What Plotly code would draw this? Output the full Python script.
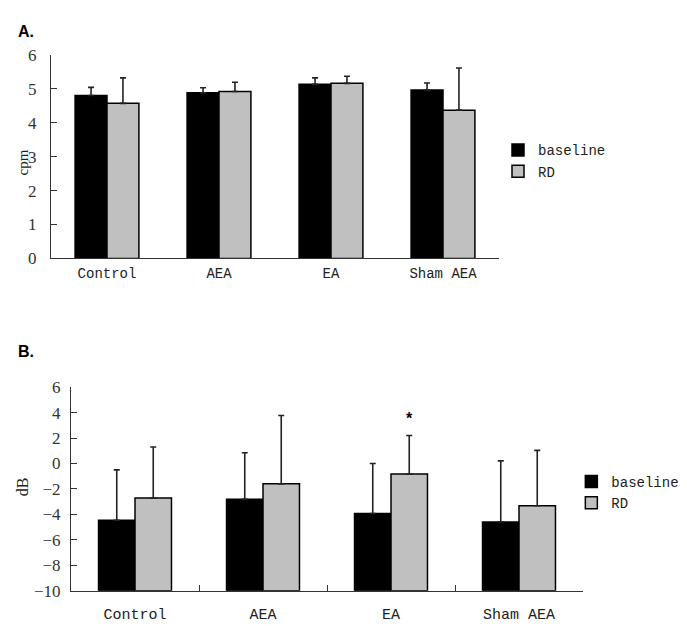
import plotly.graph_objects as go

W, H = 687, 626

categories = ["Control", "AEA", "EA", "Sham AEA"]

# Panel A (cpm)
a_baseline = [4.80, 4.88, 5.13, 4.96]
a_baseline_err = [0.24, 0.15, 0.19, 0.21]
a_rd = [4.57, 4.92, 5.16, 4.37]
a_rd_err = [0.75, 0.27, 0.21, 1.24]

# Panel B (dB)
b_baseline = [-4.46, -2.81, -3.93, -4.59]
b_baseline_err = [3.96, 3.65, 3.93, 4.79]
b_rd = [-2.71, -1.60, -0.83, -3.32]
b_rd_err = [4.01, 5.37, 3.03, 4.35]

a_yticks = [0, 1, 2, 3, 4, 5, 6]
b_yticks = [-10, -8, -6, -4, -2, 0, 2, 4, 6]

BLACK = "#000000"
GRAY = "#C0C0C0"


def px_x(a, b):
    return [a / W, b / W]


def px_y(top, bottom):
    return [1 - bottom / H, 1 - top / H]


fig = go.Figure()

err_style = dict(type="data", symmetric=False, thickness=1.6, width=3, color="#222222")

fig.add_trace(go.Bar(
    x=categories, y=a_baseline, name="baseline", xaxis="x", yaxis="y",
    marker=dict(color=BLACK, line=dict(color="#000", width=1.5)),
    error_y=dict(array=a_baseline_err, arrayminus=[0] * 4, **err_style),
    legend="legend",
))
fig.add_trace(go.Bar(
    x=categories, y=a_rd, name="RD", xaxis="x", yaxis="y",
    marker=dict(color=GRAY, line=dict(color="#000", width=1.5)),
    error_y=dict(array=a_rd_err, arrayminus=[0] * 4, **err_style),
    legend="legend",
))
fig.add_trace(go.Bar(
    x=categories, y=[v + 10 for v in b_baseline], base=-10, name="baseline", xaxis="x2", yaxis="y2",
    marker=dict(color=BLACK, line=dict(color="#000", width=1.5)),
    error_y=dict(array=b_baseline_err, arrayminus=[0] * 4, **err_style),
    legend="legend2",
))
fig.add_trace(go.Bar(
    x=categories, y=[v + 10 for v in b_rd], base=-10, name="RD", xaxis="x2", yaxis="y2",
    marker=dict(color=GRAY, line=dict(color="#000", width=1.5)),
    error_y=dict(array=b_rd_err, arrayminus=[0] * 4, **err_style),
    legend="legend2",
))

serif = "Liberation Serif, Times New Roman, serif"
mono = "Liberation Mono, DejaVu Sans Mono, monospace"

fig.update_layout(
    width=W, height=H,
    margin=dict(l=0, r=0, t=0, b=0),
    paper_bgcolor="white", plot_bgcolor="white",
    barmode="group", bargap=0.43, bargroupgap=0,
    showlegend=True,
    xaxis=dict(domain=px_x(43, 491), anchor="y", type="category",
               showline=True, linecolor="#333", linewidth=1.2, ticks="",
               showgrid=False, zeroline=False,
               tickfont=dict(family=mono, size=14, color="#222"),
               ticklabelstandoff=2),
    yaxis=dict(domain=px_y(39, 249), anchor="x", range=[0, 6],
               tickvals=a_yticks, showline=True, linecolor="#333", linewidth=1.2,
               ticks="inside", ticklen=6, tickcolor="#333",
               showgrid=False, zeroline=False,
               tickfont=dict(family=serif, size=17, color="#333"),
               ticklabelstandoff=10),
    xaxis2=dict(domain=px_x(63, 575), anchor="y2", type="category",
                showline=True, linecolor="#333", linewidth=1.2,
                ticks="inside", tickson="boundaries", ticklen=6, tickcolor="#333",
                showgrid=False, zeroline=False,
                tickfont=dict(family=mono, size=15, color="#222"),
                ticklabelstandoff=9),
    yaxis2=dict(domain=px_y(381.7, 591.7), anchor="x2", range=[-10, 6],
                tickvals=b_yticks, showline=True, linecolor="#333", linewidth=1.2,
                ticks="inside", ticklen=6, tickcolor="#333",
                showgrid=False, zeroline=False,
                tickfont=dict(family=serif, size=17, color="#333"),
                ticklabelstandoff=6),
    legend=dict(x=490 / W, y=1 - 121 / H, xanchor="left", yanchor="top",
                font=dict(family=mono, size=14, color="#222"),
                bgcolor="rgba(0,0,0,0)", itemwidth=30, tracegroupgap=0,
                traceorder="normal"),
    legend2=dict(x=0.82, y=1 - 463 / H, xanchor="left", yanchor="top",
                 font=dict(family=mono, size=14, color="#222"),
                 bgcolor="rgba(0,0,0,0)", itemwidth=30, tracegroupgap=0,
                 traceorder="normal"),
    annotations=[
        dict(text="<b>A.</b>", x=8 / W, y=1 - 15 / H, xref="paper", yref="paper",
             xanchor="left", yanchor="middle", showarrow=False,
             font=dict(family="Liberation Sans, Arial, sans-serif", size=16, color="#000")),
        dict(text="<b>B.</b>", x=8 / W, y=1 - 345 / H, xref="paper", yref="paper",
             xanchor="left", yanchor="middle", showarrow=False,
             font=dict(family="Liberation Sans, Arial, sans-serif", size=16, color="#000")),
        dict(text="cpm", x=15 / W, y=1 - 150 / H, xref="paper", yref="paper",
             textangle=-90, xanchor="center", yanchor="middle", showarrow=False,
             font=dict(family=serif, size=15, color="#222")),
        dict(text="dB", x=14 / W, y=1 - 485 / H, xref="paper", yref="paper",
             textangle=-90, xanchor="center", yanchor="middle", showarrow=False,
             font=dict(family=serif, size=16, color="#222")),
        dict(text="<b>*</b>", x="EA", y=3.5, xref="x2", yref="y2", xshift=18,
             showarrow=False, yanchor="middle",
             font=dict(family="Liberation Sans, Arial, sans-serif", size=16, color="#000")),
    ],
)

fig.write_html("out.html")
